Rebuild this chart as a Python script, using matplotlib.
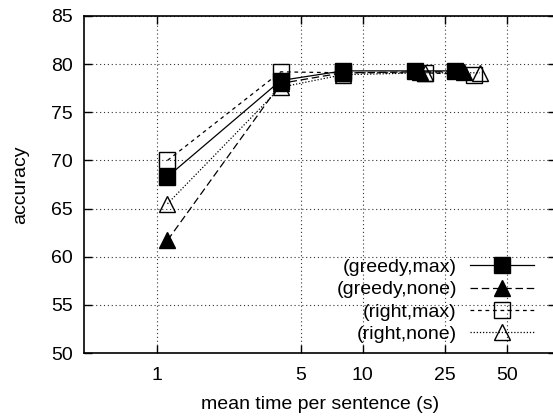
import matplotlib
matplotlib.use("Agg")
import matplotlib.pyplot as plt
from matplotlib.ticker import FixedLocator, FixedFormatter, NullLocator

plt.rcParams["font.family"] = ["Liberation Sans", "DejaVu Sans"]
plt.rcParams["font.size"] = 14

# data
labels = ["(greedy,max)", "(greedy,none)", "(right,max)", "(right,none)"]
greedy_max_t = [1.13, 4.0, 8.0, 18.0, 28.0]
greedy_max_acc = [68.3, 78.3, 79.3, 79.3, 79.3]
greedy_none_t = [1.13, 4.0, 8.0, 19.0, 31.0]
greedy_none_acc = [61.7, 78.0, 79.1, 79.2, 79.2]
right_max_t = [1.13, 4.0, 8.0, 20.0, 34.5]
right_max_acc = [70.0, 79.2, 79.1, 79.1, 78.9]
right_none_t = [1.13, 4.0, 8.0, 20.0, 37.0]
right_none_acc = [65.5, 77.6, 78.9, 79.1, 79.1]

x_ticks = [1, 5, 10, 25, 50]
y_ticks = [50, 55, 60, 65, 70, 75, 80, 85]

fig = plt.figure(figsize=(5.53, 4.17), dpi=100)
ax = fig.add_axes([84 / 553, 1 - 353 / 417, 472 / 553, 337 / 417])

lw = 0.9
ms = 12
ax.plot(right_none_t, right_none_acc, color="black", lw=lw, ls=(0, (1, 1.5)),
        marker="^", ms=ms, mfc="none", mec="black", mew=1.0, label=labels[3])
ax.plot(right_max_t, right_max_acc, color="black", lw=lw, ls=(0, (3, 3)),
        marker="s", ms=ms, mfc="none", mec="black", mew=1.0, label=labels[2])
ax.plot(greedy_none_t, greedy_none_acc, color="black", lw=lw, ls=(0, (6, 3)),
        marker="^", ms=ms, mfc="black", mec="black", label=labels[1])
ax.plot(greedy_max_t, greedy_max_acc, color="black", lw=lw, ls="-",
        marker="s", ms=ms, mfc="black", mec="black", label=labels[0])

ax.set_xscale("log")
ax.set_xlim(0.445, 86.5)
ax.set_ylim(50, 85)
ax.xaxis.set_major_locator(FixedLocator(x_ticks))
ax.xaxis.set_major_formatter(FixedFormatter([str(v) for v in x_ticks]))
ax.xaxis.set_minor_locator(NullLocator())
ax.set_yticks(y_ticks)

ax.tick_params(direction="in", length=6, width=1, top=True, right=True)
ax.tick_params(axis="x", pad=10)
ax.tick_params(axis="y", pad=8)
for s in ax.spines.values():
    s.set_linewidth(1.2)
ax.grid(True, color="0.2", ls=(0, (1, 2.5)), lw=0.8)

ax.set_xlabel("mean time per sentence (s)", labelpad=9)
ax.set_ylabel("accuracy", labelpad=16)

handles, hl = ax.get_legend_handles_labels()
leg = ax.legend(handles[::-1], hl[::-1], loc="lower right",
                bbox_to_anchor=(0.974, 0.0), frameon=False,
                markerfirst=False, borderpad=0, handlelength=3.3,
                handletextpad=0.67, labelspacing=0.25, numpoints=1)

fig.savefig("out.png", dpi=100)
